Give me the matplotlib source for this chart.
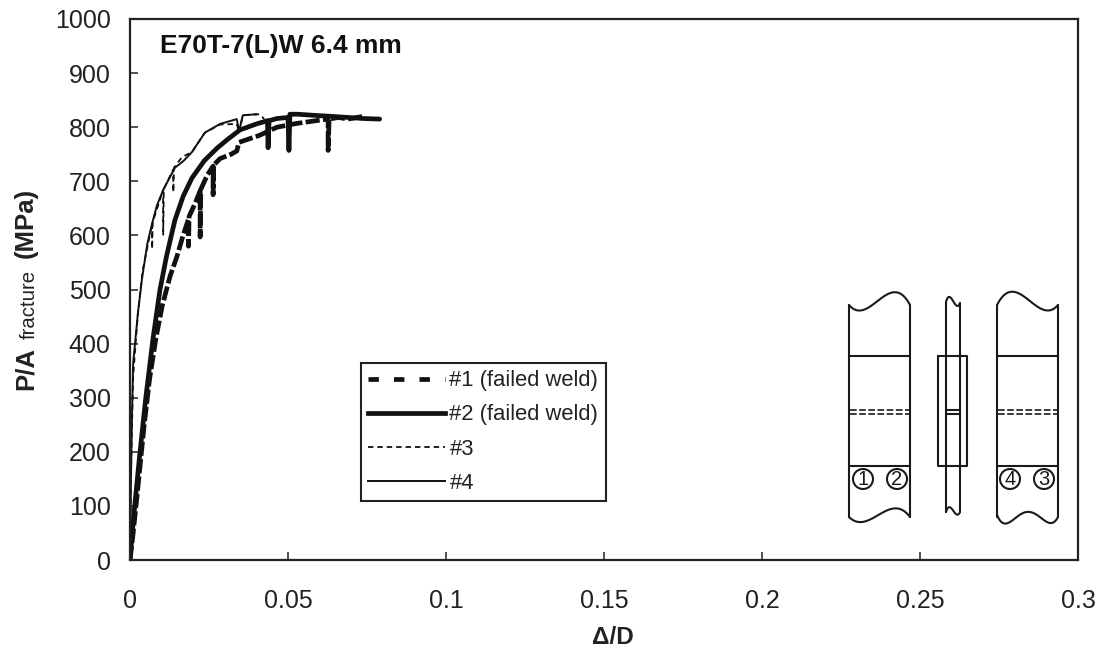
#!/usr/bin/env python3
import numpy as np
import matplotlib
matplotlib.use('Agg')
import matplotlib.pyplot as plt
from matplotlib.lines import Line2D
from matplotlib.patches import Circle

plt.rcParams['font.family'] = ['Liberation Sans', 'DejaVu Sans']

# specimen curves (delta/D, P/A in MPa)
x1 = [0, 0.001, 0.0026, 0.0044, 0.0062, 0.0082, 0.0102, 0.0127, 0.0148, 0.0168, 0.0185, 0.0185, 0.0187, 0.0205,
      0.0222, 0.0222, 0.0224, 0.0245, 0.0263, 0.0263, 0.0265, 0.0285, 0.0320, 0.0338, 0.0345, 0.0375, 0.041,
      0.0465, 0.0528, 0.060, 0.0627, 0.0627, 0.0630, 0.066, 0.0690, 0.0737]
y1 = [0, 50, 140, 245, 335, 410, 470, 525, 560, 600, 630, 580, 635, 658,
      682, 597, 685, 712, 728, 675, 730, 742, 750, 756, 772, 778, 785,
      800, 807, 813, 815, 757, 815, 818, 815, 820]
x2 = [0, 0.001, 0.003, 0.005, 0.0073, 0.0095, 0.0115, 0.0142, 0.0168, 0.0196, 0.0235, 0.0275, 0.031,
      0.0348, 0.040, 0.0435, 0.0437, 0.0440, 0.0465, 0.0500, 0.0503, 0.0506, 0.0530, 0.058, 0.064, 0.069, 0.074, 0.079]
y2 = [0, 70, 190, 300, 410, 500, 560, 628, 672, 706, 738, 761, 778,
      795, 806, 812, 762, 812, 816, 818, 757, 824, 824, 822, 820, 818, 816, 815]
x3 = [0, 0.0004, 0.001, 0.0025, 0.004, 0.007, 0.007, 0.0072, 0.0105, 0.0105, 0.0107, 0.0137, 0.0137, 0.0139, 0.0165,
      0.0196, 0.0237, 0.0285, 0.0338, 0.0345, 0.0357, 0.041, 0.0425]
y3 = [0, 190, 340, 456, 535, 622, 575, 625, 684, 600, 686, 722, 680, 725, 745,
      754, 790, 805, 806, 790, 822, 824, 815]
x4 = [0, 0.0003, 0.0006, 0.001, 0.0025, 0.0038, 0.0055, 0.007, 0.0085, 0.0105, 0.0142, 0.0170, 0.0196, 0.0237,
      0.0285, 0.0338, 0.0345, 0.0357, 0.040]
y4 = [0, 150, 260, 364, 456, 520, 585, 622, 655, 684, 725, 738, 754, 790,
      806, 815, 792, 822, 824]

xticks = [0, 0.05, 0.1, 0.15, 0.2, 0.25, 0.3]
xlabels = ['0', '0.05', '0.1', '0.15', '0.2', '0.25', '0.3']
yticks = list(range(0, 1001, 100))
names = ['#1 (failed weld)', '#2 (failed weld)', '#3', '#4']

INK = '#1a1a1a'


def wavy(ov, xs, ys, **k):
    # smooth edge through a few picked points of the broken plate end
    t = np.linspace(xs[0], xs[-1], 60)
    ov.plot(t, np.polyval(np.polyfit(xs, ys, len(xs) - 1), t), **k)


def draw_sketch(fig):
    # overlay in picture pixels, only for the small specimen drawing
    ov = fig.add_axes([0, 0, 1, 1], zorder=5)
    ov.set_xlim(0, 1103)
    ov.set_ylim(653, 0)
    ov.axis('off')
    ov.patch.set_alpha(0)
    k = dict(color=INK, lw=1.5, solid_capstyle='round')

    wavy(ov, [849, 863, 888, 910], [305, 310, 294, 305], **k)
    wavy(ov, [849, 862, 888, 910], [517, 522, 510, 517], **k)
    wavy(ov, [997, 1020, 1038, 1058], [305, 294, 307, 305], **k)
    wavy(ov, [997, 1010, 1030, 1047, 1058], [515, 522, 512, 522, 517], **k)

    for x0, nums in [(849, [('1', 863), ('2', 897)]), (997, [('4', 1010), ('3', 1044)])]:
        w = 61
        ov.plot([x0, x0], [305, 517], **k)
        ov.plot([x0 + w, x0 + w], [305, 517], **k)
        ov.plot([x0, x0 + w], [356, 356], **k)
        ov.plot([x0, x0 + w], [466, 466], **k)
        for yy in (410, 413.5):
            ov.plot([x0 + 1, x0 + w - 1], [yy, yy], color=INK, lw=1.2, dashes=(4, 1.5))
        for s, xc in nums:
            ov.add_patch(Circle((xc, 479), 10, fill=False, ec=INK, lw=1.5))
            ov.text(xc, 479.5, s, ha='center', va='center', fontsize=14.5, color=INK)

    # side view in the middle
    ov.plot([946, 946], [302, 512], **k)
    ov.plot([960, 960], [303, 512], **k)
    wavy(ov, [946, 951, 955, 960], [302, 298, 304, 303], **k)
    wavy(ov, [946, 951, 955, 960], [512, 508, 513, 512], **k)
    ov.plot([938, 938, 967, 967, 938], [356, 466, 466, 356, 356], **k)
    ov.plot([946, 960], [409.5, 409.5], **k)
    ov.plot([946, 960], [413.5, 413.5], **k)


def main():
    fig = plt.figure(figsize=(11.03, 6.53), dpi=100)
    ax = fig.add_axes([130 / 1103, (653 - 560) / 653, 948 / 1103, 541 / 653])

    ax.plot(x1, y1, color='#111111', lw=3.4, dashes=(3.0, 0.7))
    ax.plot(x2, y2, color='#111111', lw=3.4, solid_capstyle='round')
    ax.plot(x3, y3, color='#111111', lw=1.3, dashes=(3, 2.2))
    ax.plot(x4, y4, color='#111111', lw=1.4)

    ax.set_xlim(0, 0.3)
    ax.set_ylim(0, 1000)
    ax.set_xticks(xticks)
    ax.set_xticklabels(xlabels)
    ax.set_yticks(yticks)
    ax.tick_params(direction='in', length=6, width=1.1, labelsize=18, color='#222222', labelcolor='#222222')
    ax.tick_params(axis='x', pad=21)
    ax.tick_params(axis='y', pad=14)
    for s in ax.spines.values():
        s.set_linewidth(1.6)
        s.set_color('#222222')

    def px_text(x, y, s, **k):
        fig.text(x / 1103, (653 - y) / 653, s, **k)

    # y label in three pieces, the subscript is smaller and not bold
    rot = dict(rotation=90, rotation_mode='anchor', ha='left', va='baseline', color='#222222')
    px_text(33, 390, 'P/A', fontsize=18.5, fontweight='bold', **rot)
    px_text(35, 339, 'fracture', fontsize=14.7, **rot)
    px_text(33, 258, '(MPa)', fontsize=18.5, fontweight='bold', **rot)

    px_text(613, 644, 'Δ/D', fontsize=17.5, fontweight='bold', ha='center', va='baseline', color='#222222')
    px_text(160, 53, 'E70T-7(L)W 6.4 mm', fontsize=19, fontweight='bold', va='baseline', color='#111111')

    # the legend samples have wider dashes than the busy curves show
    handles = [Line2D([], [], color='#111111', lw=3.4, dashes=(2.2, 3.2)),
               Line2D([], [], color='#111111', lw=3.4),
               Line2D([], [], color='#111111', lw=1.3, dashes=(3, 2.2)),
               Line2D([], [], color='#111111', lw=1.4)]
    leg = ax.legend(handles, names, loc='lower left', bbox_to_anchor=(361 / 1103, (653 - 501) / 653),
                    bbox_transform=fig.transFigure, fontsize=15.8, frameon=True, fancybox=False,
                    edgecolor='#222222', framealpha=1, handlelength=3.5, handletextpad=0.2,
                    labelspacing=0.6, borderaxespad=0, borderpad=0.33, labelcolor='#222222')
    leg.get_frame().set_linewidth(1.5)

    draw_sketch(fig)
    fig.savefig('out.png', dpi=100)


if __name__ == '__main__':
    main()
